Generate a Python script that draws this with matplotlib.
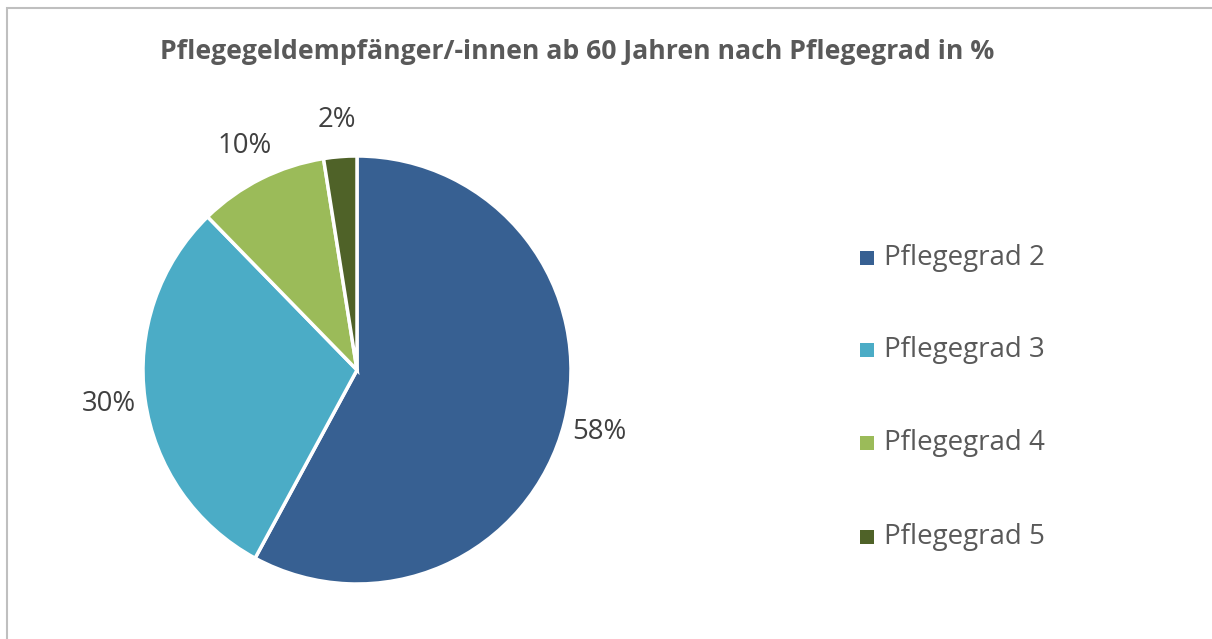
import numpy as np
import matplotlib.pyplot as plt
from matplotlib.patches import Rectangle

categories = ['Pflegegrad 2', 'Pflegegrad 3', 'Pflegegrad 4', 'Pflegegrad 5']
shares = [57.9, 29.8, 9.8, 2.5]
pct_labels = ['58%', '30%', '10%', '2%']
colors = ['#376092', '#4BACC6', '#9BBB59', '#4F6228']
title = 'Pflegegeldempfänger/-innen ab 60 Jahren nach Pflegegrad in %'

plt.rcParams['font.family'] = ['Open Sans', 'DejaVu Sans']

W, H = 1212, 639
fig = plt.figure(figsize=(W / 100, H / 100), dpi=100)

# outer chart border (clipped on right/bottom like the screenshot)
fig.patches.append(Rectangle((7 / W, -0.1), 1.2, (H - 8) / H + 0.1, transform=fig.transFigure,
                             fill=False, edgecolor='#BFBFBF', linewidth=1.5))

cx, cy, r = 357, 370, 214
ax = fig.add_axes([(cx - r) / W, (H - cy - r) / H, 2 * r / W, 2 * r / H])
wedges, _ = ax.pie(shares, colors=colors, startangle=90, counterclock=False, radius=1,
                   wedgeprops=dict(edgecolor='white', linewidth=2.5))
ax.set_xlim(-1, 1)
ax.set_ylim(-1, 1)
ax.set_aspect('auto')
ax.axis('off')

for w, lab in zip(wedges, pct_labels):
    ang = np.deg2rad((w.theta1 + w.theta2) / 2)
    d = 1.17
    ax.text(d * np.cos(ang), d * np.sin(ang), lab, ha='center', va='center',
            fontsize=19.8, color='#404040', clip_on=False)

fig.text(577 / W, 1 - 52 / H, title, ha='center', va='center', fontsize=19.2,
         fontweight='bold', color='#595959')

ys = [258, 350, 443, 537]
for lab, c, y in zip(categories, colors, ys):
    fig.patches.append(Rectangle((860 / W, 1 - (y + 7) / H), 14 / W, 14 / H,
                                 transform=fig.transFigure, facecolor=c, edgecolor='none'))
    fig.text(884 / W, 1 - y / H, lab, ha='left', va='center', fontsize=20, color='#595959')

fig.savefig('out.png', dpi=100)
